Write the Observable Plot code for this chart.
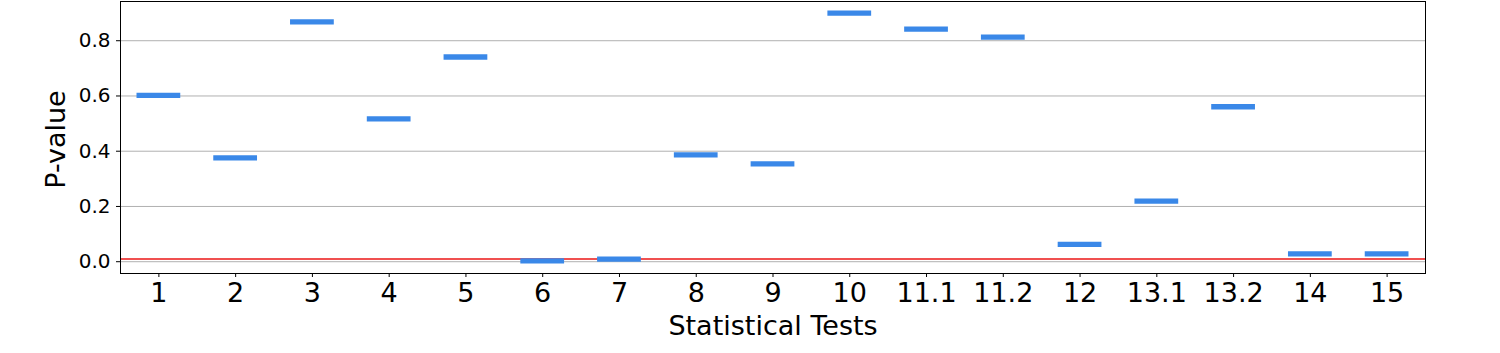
<!DOCTYPE html>
<html>
<head>
<meta charset="utf-8">
<script src="https://cdn.jsdelivr.net/npm/d3@7"></script>
<script src="https://cdn.jsdelivr.net/npm/@observablehq/plot@0.6"></script>
<style>
  html, body { margin: 0; padding: 0; background: #fff; }
  #chart svg { display: block; }
</style>
</head>
<body>
<div id="chart"></div>
<script>
const categories = ["1", "2", "3", "4", "5", "6", "7", "8", "9", "10", "11.1", "11.2", "12", "13.1", "13.2", "14", "15"];
const pValues = [0.602, 0.376, 0.868, 0.517, 0.741, 0.003, 0.009, 0.387, 0.354, 0.900, 0.842, 0.813, 0.063, 0.219, 0.561, 0.028, 0.028];
const yTicks = [0, 0.2, 0.4, 0.6, 0.8];
const threshold = [0.01];
const xTitle = "Statistical Tests";
const yTitle = "P-value";

const data = categories.map((c, i) => ({cat: c, i, p: pValues[i]}));
const halfWidth = 0.285;

const chart = Plot.plot({
  width: 1500,
  height: 353,
  marginLeft: 120,
  marginRight: 75,
  marginTop: 1,
  marginBottom: 80,
  style: {fontFamily: "DejaVu Sans", background: "#fff", color: "#000"},
  x: {domain: [-0.5, categories.length - 0.5]},
  y: {domain: [-0.0427, 0.942]},
  marks: [
    Plot.gridY(yTicks, {stroke: "#b0b0b0", strokeOpacity: 1, strokeWidth: 1}),
    Plot.ruleY(threshold, {stroke: "#f05050", strokeWidth: 2}),
    Plot.ruleY(data, {
      y: "p",
      x1: d => d.i - halfWidth,
      x2: d => d.i + halfWidth,
      stroke: "#3a88e8",
      strokeWidth: 5.3,
      strokeLinecap: "butt"
    }),
    Plot.axisY(yTicks, {
      tickFormat: d3.format(".1f"),
      fontSize: 20,
      tickSize: 4,
      tickPadding: 6,
      label: null
    }),
    Plot.axisX(d3.range(categories.length), {
      tickFormat: d => categories[d],
      fontSize: 27,
      tickSize: 4,
      tickPadding: 5,
      label: null
    }),
    Plot.text([yTitle], {
      text: d => d,
      frameAnchor: "left",
      textAnchor: "middle",
      rotate: -90,
      dx: -64,
      dy: 2,
      fontSize: 27,
      lineAnchor: "middle",
      fill: "#000"
    }),
    Plot.text([xTitle], {
      text: d => d,
      frameAnchor: "bottom",
      textAnchor: "middle",
      dy: 53,
      fontSize: 27,
      lineAnchor: "middle",
      fill: "#000"
    }),
    Plot.frame({stroke: "#000", strokeWidth: 1})
  ]
});
document.getElementById("chart").append(chart);
</script>
</body>
</html>
